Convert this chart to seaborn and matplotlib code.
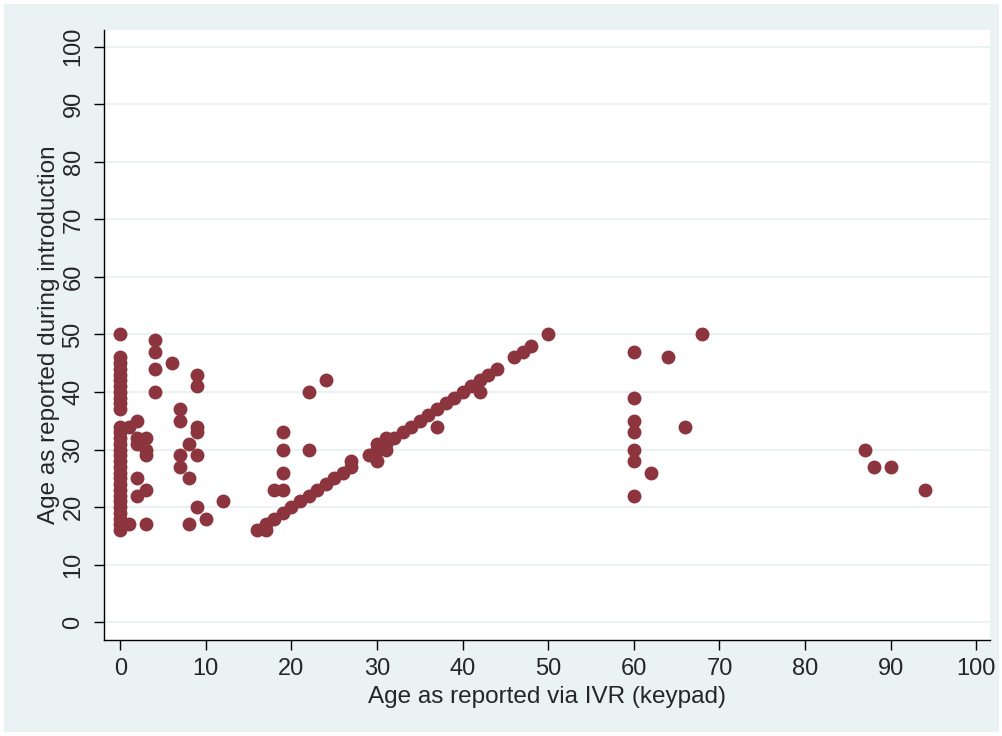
import pandas as pd
import seaborn as sns
import matplotlib.pyplot as plt
from matplotlib.patches import Rectangle

# respondents who keyed 0 on the keypad
zero_intro = [50, 46, 45, 44, 43, 42, 41, 40, 39, 38, 37,
              34, 33, 32, 31, 30, 29, 28, 27, 26, 25, 24, 23, 22, 21, 20, 19, 18, 17, 16]

# small keypad values (1-12)
low_ivr = [1, 1, 2, 2, 2, 2, 2, 3, 3, 3, 3, 3, 4, 4, 4, 4, 6, 7, 7, 7, 7,
           8, 8, 8, 9, 9, 9, 9, 9, 9, 10, 12]
low_intro = [34, 17, 35, 32, 31, 25, 22, 32, 30, 29, 23, 17, 49, 47, 44, 40, 45, 37, 35, 29, 27,
             31, 25, 17, 43, 41, 34, 33, 29, 20, 18, 21]

# agreeing answers
match_age = [16, 17, 18, 19, 20, 21, 22, 23, 24, 25, 26, 27,
             29, 30, 31, 32, 33, 34, 35, 36, 37, 38, 39, 40, 41, 42, 43, 44,
             46, 47, 48, 50]

# mismatches in the 16-44 range
mid_ivr = [17, 18, 19, 19, 19, 19, 22, 22, 24, 27, 30, 30, 31, 31, 37, 42]
mid_intro = [16, 23, 23, 26, 30, 33, 30, 40, 42, 28, 28, 31, 30, 32, 34, 40]

# high keypad values
high_ivr = [60, 60, 60, 60, 60, 60, 60, 62, 64, 66, 68, 87, 88, 90, 94]
high_intro = [47, 39, 35, 33, 30, 28, 22, 26, 46, 34, 50, 30, 27, 27, 23]

df = pd.concat([
    pd.DataFrame({"ivr": [0] * len(zero_intro), "intro": zero_intro}),
    pd.DataFrame({"ivr": low_ivr, "intro": low_intro}),
    pd.DataFrame({"ivr": match_age, "intro": match_age}),
    pd.DataFrame({"ivr": mid_ivr, "intro": mid_intro}),
    pd.DataFrame({"ivr": high_ivr, "intro": high_intro}),
], ignore_index=True)

sns.set_style("white")
plt.rcParams["font.family"] = ["Liberation Sans", "DejaVu Sans"]

bg = "#EAF2F3"
W, H = 1003, 736
fig = plt.figure(figsize=(W / 100, H / 100), dpi=100, facecolor="white")
fig.patches.append(Rectangle((4 / W, 4 / H), (W - 8) / W, (H - 8) / H,
                             transform=fig.transFigure, facecolor=bg,
                             edgecolor="none", zorder=-10))
ax = fig.add_axes([104 / W, 1 - 640 / H, (990 - 104) / W, (640 - 30) / H])
ax.set_facecolor("white")

sns.scatterplot(data=df, x="ivr", y="intro", color="#8C353F", s=100,
                linewidth=0, ax=ax)

ax.set_xlim(-1.9, 101.6)
ax.set_ylim(-3.1, 102.9)
ax.set_xticks(range(0, 101, 10))
ax.set_yticks(range(0, 101, 10))
ax.yaxis.grid(True, color=bg, linewidth=1.5)
ax.xaxis.grid(False)
ax.set_axisbelow(True)

for side in ["top", "right"]:
    ax.spines[side].set_visible(False)
for side in ["left", "bottom"]:
    ax.spines[side].set_color("black")
    ax.spines[side].set_linewidth(1.0)

ax.tick_params(axis="both", direction="out", length=7, width=1,
               color="black", labelsize=17, left=True, bottom=True)
ax.tick_params(axis="x", pad=6)
ax.tick_params(axis="y", pad=7)
plt.setp(ax.get_yticklabels(), rotation=90, va="center")

ax.set_xlabel("Age as reported via IVR (keypad)", fontsize=17.5, labelpad=4)
ax.set_ylabel("Age as reported during introduction", fontsize=17.5, labelpad=2)

fig.savefig("out.png", dpi=100, facecolor=fig.get_facecolor())
